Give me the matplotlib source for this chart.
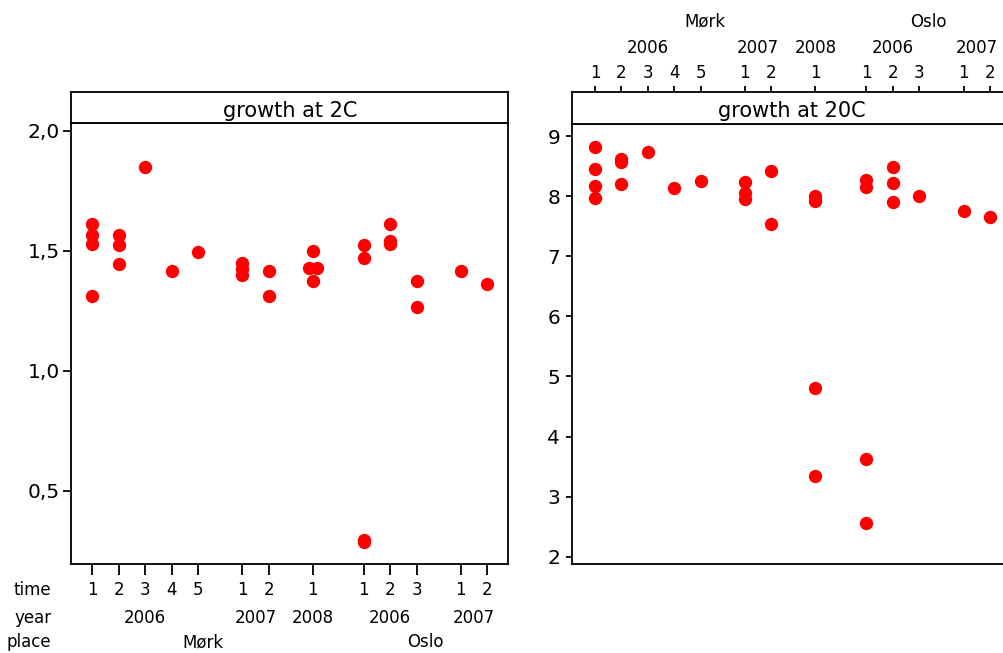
import numpy as np
import matplotlib.pyplot as plt
from matplotlib.ticker import FuncFormatter

plt.rcParams['font.family'] = ['DejaVu Sans']

# one entry per x position (place / year / time)
places = ['Mørk'] * 8 + ['Oslo'] * 5
years = ['2006'] * 5 + ['2007'] * 2 + ['2008'] + ['2006'] * 3 + ['2007'] * 2
times = ['1', '2', '3', '4', '5', '1', '2', '1', '1', '2', '3', '1', '2']

# growth values, one list per x position
growth_2c = [
    [1.61, 1.565, 1.53, 1.31],
    [1.565, 1.525, 1.445],
    [1.85],
    [1.415],
    [1.495],
    [1.45, 1.425, 1.40],
    [1.415, 1.31],
    [1.50, 1.43, 1.43, 1.375],
    [1.525, 1.47, 0.295, 0.285],
    [1.61, 1.54, 1.53],
    [1.375, 1.265],
    [1.415],
    [1.36],
]

growth_20c = [
    [8.82, 8.45, 8.17, 7.97],
    [8.61, 8.57, 8.20],
    [8.73],
    [8.13],
    [8.26],
    [8.23, 8.05, 7.96],
    [8.42, 7.53],
    [8.01, 7.92, 4.80, 3.35],
    [8.27, 8.16, 3.63, 2.56],
    [8.48, 8.22, 7.91],
    [8.01],
    [7.76],
    [7.66],
]

LW = 1.3
FS_ROW = 12
FS_TICK = 14.5
FS_TITLE = 15


def group_positions():
    """x position of each group, wider gaps between years and places"""
    pos = []
    x = 0.0
    for i in range(len(times)):
        if i > 0:
            if places[i] != places[i - 1]:
                x += 1.93
            elif years[i] != years[i - 1]:
                x += 1.67
            else:
                x += 1.0
        pos.append(x)
    return np.array(pos)


def runs(keys):
    """(start, end) index of contiguous runs of equal keys"""
    out = []
    start = 0
    for i in range(1, len(keys) + 1):
        if i == len(keys) or keys[i] != keys[start]:
            out.append((start, i - 1))
            start = i
    return out


def draw_points(ax, pos, groups):
    for x, vals in zip(pos, groups):
        vals = np.array(vals)
        xs = np.full(len(vals), x)
        # tied values are put side by side
        for v in np.unique(vals):
            idx = np.where(vals == v)[0]
            if len(idx) > 1:
                xs[idx] = x + np.linspace(-0.15, 0.15, len(idx))
        ax.plot(xs, vals, 'o', color='#ff0000', markersize=9.6,
                markeredgewidth=0, clip_on=False, zorder=3)


def label_rows(ax, pos, y_axes, offsets):
    """three rows of category labels (time, year, place)"""
    sign = -1 if y_axes == 0 else 1
    kw = dict(xycoords=('data', 'axes fraction'), textcoords='offset points',
              ha='center', va='baseline', fontsize=FS_ROW, annotation_clip=False)
    for i, t in enumerate(times):
        ax.annotate(t, (pos[i], y_axes), xytext=(0, sign * offsets[0]), **kw)
    for s, e in runs(list(zip(places, years))):
        ax.annotate(years[s], ((pos[s] + pos[e]) / 2, y_axes),
                    xytext=(0, sign * offsets[1]), **kw)
    for s, e in runs(places):
        ax.annotate(places[s], ((pos[s] + pos[e]) / 2, y_axes),
                    xytext=(0, sign * offsets[2]), **kw)


def style_axes(ax):
    for sp in ax.spines.values():
        sp.set_linewidth(LW)
        sp.set_color('black')


def strip(fig, rect, ax_main, title):
    sax = fig.add_axes(rect, sharex=ax_main)
    sax.set_yticks([])
    sax.text(0.5, 0.21, title, transform=sax.transAxes, ha='center',
             va='baseline', fontsize=FS_TITLE)
    style_axes(sax)
    return sax


pos = group_positions()
comma = FuncFormatter(lambda v, p: f'{v:.1f}'.replace('.', ','))

fig = plt.figure(figsize=(10.04, 6.53), dpi=100)

# left panel: growth at 2C
ax1 = fig.add_axes([0.0712, 0.1358, 0.4348, 0.6754])
draw_points(ax1, pos, growth_2c)
ax1.set_xlim(-0.79, pos[-1] + 0.79)
ax1.set_ylim(0.193, 2.032)
ax1.set_yticks([0.5, 1.0, 1.5, 2.0])
ax1.yaxis.set_major_formatter(comma)
ax1.tick_params(axis='y', length=5.8, width=LW, labelsize=FS_TICK, pad=2.5)
ax1.set_xticks(pos)
ax1.tick_params(axis='x', length=8, width=LW, labelbottom=False)
style_axes(ax1)
row_off = (22.1, 42.5, 59.8)
label_rows(ax1, pos, 0, row_off)
for k, name in enumerate(['time', 'year', 'place']):
    ax1.annotate(name, (0, 0), xycoords='axes fraction', textcoords='offset points',
                 xytext=(-14.3, -row_off[k]), ha='right',
                 va='baseline', fontsize=FS_ROW, annotation_clip=False)
s1 = strip(fig, [0.0712, 0.8112, 0.4348, 0.0475], ax1, 'growth at 2C')
s1.tick_params(axis='x', bottom=False, labelbottom=False)

# right panel: growth at 20C (runs past the right edge)
ax2 = fig.add_axes([0.5700, 0.1363, 0.4368, 0.6738])
draw_points(ax2, pos, growth_20c)
ax2.set_xlim(-0.86, pos[-1] + 0.79)
ax2.set_ylim(1.88, 9.2)
ax2.set_yticks(range(2, 10))
ax2.tick_params(axis='y', length=4.3, width=LW, labelsize=FS_TICK, pad=4.5)
ax2.tick_params(axis='x', bottom=False, labelbottom=False)
style_axes(ax2)
s2 = strip(fig, [0.5700, 0.8101, 0.4368, 0.0495], ax2, 'growth at 20C')
s2.set_xticks(pos)
s2.tick_params(axis='x', bottom=False, labelbottom=False, top=True,
               labeltop=False, length=4.3, width=LW)
label_rows(s2, pos, 1, (9.6, 27.6, 46.8))

fig.savefig('out.png', dpi=100)
